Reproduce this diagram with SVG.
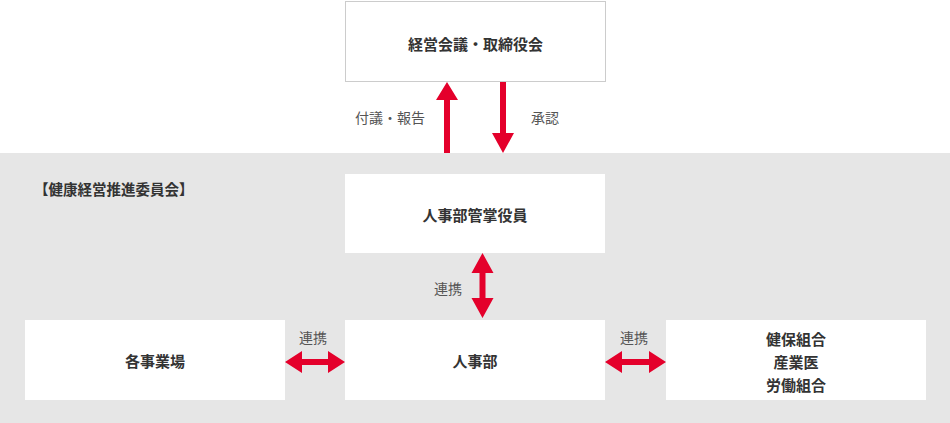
<svg xmlns="http://www.w3.org/2000/svg" width="950" height="423" viewBox="0 0 950 423">
<style>
.box{fill:#fff}
.t{font-family:"Noto Sans CJK JP","Noto Sans",sans-serif;font-size:15px;font-weight:bold;fill:#333;text-anchor:middle;dominant-baseline:central}
.l{font-family:"Noto Sans CJK JP","Noto Sans",sans-serif;font-size:14px;fill:#555;text-anchor:middle;dominant-baseline:central}
.a{fill:#e4002b}
</style>
<rect x="0" y="0" width="950" height="423" fill="#fff"/>
<rect x="0" y="153" width="950" height="270" fill="#e6e6e6"/>
<text class="t" x="34" y="188" style="text-anchor:start;font-size:14.5px">【健康経営推進委員会】</text>
<g id="board">
<rect class="box" x="345.5" y="1.5" width="260" height="80" stroke="#ccc" stroke-width="1"/>
<text class="t" x="475.5" y="43">経営会議・取締役会</text>
</g>
<g id="exec">
<rect class="box" x="345" y="174" width="260" height="79"/>
<text class="t" x="475" y="214">人事部管掌役員</text>
</g>
<g id="hr">
<rect class="box" x="345" y="320" width="260" height="80"/>
<text class="t" x="475" y="360">人事部</text>
</g>
<g id="sites">
<rect class="box" x="25" y="320" width="260" height="80"/>
<text class="t" x="155" y="360">各事業場</text>
</g>
<g id="partners">
<rect class="box" x="666" y="320" width="260" height="80"/>
<text class="t" x="796" y="338">健保組合</text>
<text class="t" x="796" y="361">産業医</text>
<text class="t" x="796" y="384">労働組合</text>
</g>
<g id="connectors">
<polygon class="a" points="447,82 458,100 450,100 450,153 444,153 444,100 436,100"/>
<polygon class="a" points="503,153 492,133 500,133 500,82 506,82 506,133 514,133"/>
<text class="l" x="390" y="117">付議・報告</text>
<text class="l" x="545" y="117">承認</text>
<polygon class="a" points="482.5,253 493.5,273 485.5,273 485.5,298 493.5,298 482.5,318 471.5,298 479.5,298 479.5,273 471.5,273"/>
<text class="l" x="448" y="288">連携</text>
<polygon class="a" points="285,362 302,351 302,359 328,359 328,351 345,362 328,373 328,365 302,365 302,373"/>
<text class="l" x="313" y="337">連携</text>
<polygon class="a" points="605,362 622,351 622,359 649,359 649,351 666,362 649,373 649,365 622,365 622,373"/>
<text class="l" x="634" y="337">連携</text>
</g>
</svg>
